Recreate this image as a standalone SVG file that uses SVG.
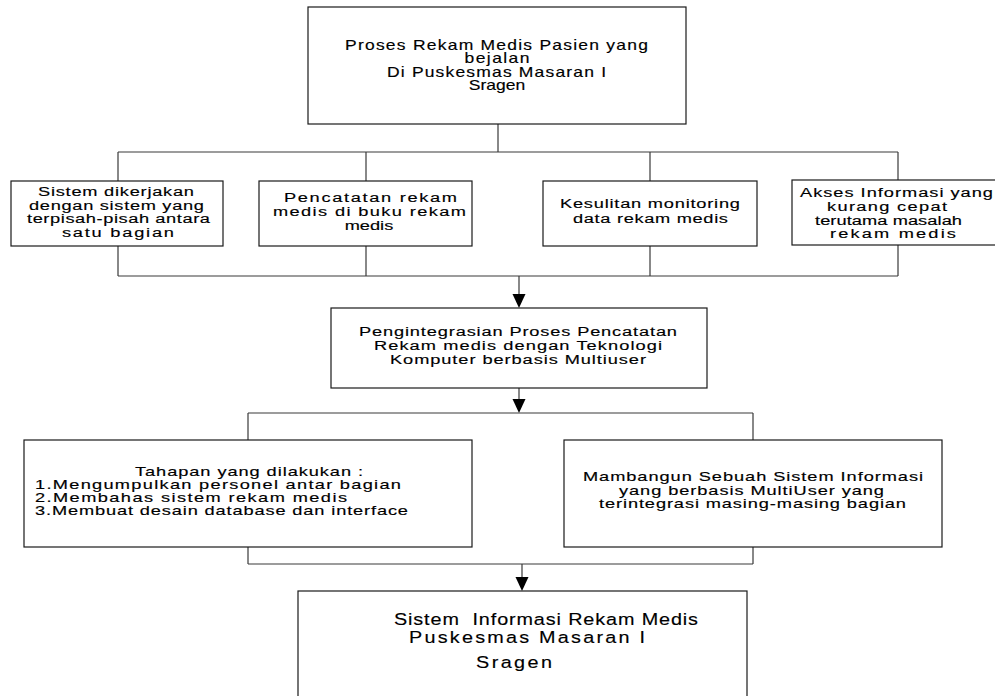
<svg xmlns="http://www.w3.org/2000/svg" width="995" height="696" viewBox="0 0 995 696">
<style>
  .box { fill: #ffffff; stroke: #1a1a1a; stroke-width: 1.2; }
  .ln { fill: none; stroke: #3a3a3a; stroke-width: 1.2; }
  .ah { fill: #000000; stroke: none; }
  text { font-family: "Liberation Sans", Arial, sans-serif; fill: #000000; stroke: #000000; stroke-width: 0.15; white-space: pre; }
  .t14 { font-size: 14px; }
  .t135 { font-size: 13.5px; }
  .t13 { font-size: 13px; }
  .t165 { font-size: 16.5px; }
</style>
<rect x="0" y="0" width="995" height="696" fill="#ffffff"/>

<g id="connectors">
  <path class="ln" d="M498 124 V152 M118 152 H898 M118 152 V181 M366 152 V181 M650 152 V181 M898 152 V180"/>
  <path class="ln" d="M118 246 V276 M366 246 V276 M650 246 V276 M898 245 V276 M118 276 H898"/>
  <path class="ln" d="M519 276 V296"/>
  <polygon class="ah" points="512.5,294 525.5,294 519,308"/>
  <path class="ln" d="M519 388 V400"/>
  <polygon class="ah" points="512.5,399 525.5,399 519,413"/>
  <path class="ln" d="M248 413 H753 M248 413 V440 M753 413 V440"/>
  <path class="ln" d="M248 547 V564 M753 547 V564 M248 564 H753"/>
  <path class="ln" d="M522 564 V578"/>
  <polygon class="ah" points="515.5,577 528.5,577 522,591"/>
</g>

<g id="node-proses">
  <rect class="box" x="308" y="7" width="378" height="117"/>
  <g transform="scale(1.25,1)">
    <text class="t14" x="276" y="50" textLength="242.4" lengthAdjust="spacing">Proses Rekam Medis Pasien yang</text>
    <text class="t14" x="371.6" y="63.5" textLength="52" lengthAdjust="spacing">bejalan</text>
    <text class="t14" x="309.6" y="77" textLength="175.2" lengthAdjust="spacing">Di Puskesmas Masaran I</text>
    <text class="t14" x="397.6" y="90.5" text-anchor="middle">Sragen</text>
  </g>
</g>

<g id="node-sistem-terpisah">
  <rect class="box" x="11" y="181" width="212" height="65"/>
  <g transform="scale(1.35,1)">
    <text class="t135" x="28.15" y="196.5" textLength="115.56" lengthAdjust="spacing">Sistem dikerjakan</text>
    <text class="t135" x="21.48" y="210" textLength="129.63" lengthAdjust="spacing">dengan sistem yang</text>
    <text class="t135" x="20" y="223.5" textLength="135.56" lengthAdjust="spacing">terpisah-pisah antara</text>
    <text class="t135" x="45.93" y="237" textLength="82.96" lengthAdjust="spacing">satu bagian</text>
  </g>
</g>

<g id="node-pencatatan">
  <rect class="box" x="259" y="181" width="213" height="65"/>
  <g transform="scale(1.35,1)">
    <text class="t135" x="210.37" y="202" textLength="128.15" lengthAdjust="spacing">Pencatatan rekam</text>
    <text class="t135" x="202.22" y="216" textLength="142.96" lengthAdjust="spacing">medis di buku rekam</text>
    <text class="t135" x="273.33" y="230" text-anchor="middle">medis</text>
  </g>
</g>

<g id="node-kesulitan">
  <rect class="box" x="543" y="181" width="214" height="65"/>
  <g transform="scale(1.35,1)">
    <text class="t135" x="414.81" y="208.5" textLength="133.33" lengthAdjust="spacing">Kesulitan monitoring</text>
    <text class="t135" x="424.44" y="223" textLength="114.81" lengthAdjust="spacing">data rekam medis</text>
  </g>
</g>

<g id="node-akses">
  <rect class="box" x="792" y="180" width="206" height="65"/>
  <g transform="scale(1.35,1)">
    <text class="t135" x="592.59" y="196.7" textLength="142.96" lengthAdjust="spacing">Akses Informasi yang</text>
    <text class="t135" x="612.59" y="211" textLength="88.89" lengthAdjust="spacing">kurang cepat</text>
    <text class="t135" x="603.7" y="225" textLength="108.89" lengthAdjust="spacing">terutama masalah</text>
    <text class="t135" x="614.81" y="238.5" textLength="93.33" lengthAdjust="spacing">rekam medis</text>
  </g>
</g>

<g id="node-pengintegrasian">
  <rect class="box" x="331" y="308" width="376" height="80"/>
  <g transform="scale(1.35,1)">
    <text class="t135" x="265.93" y="336" textLength="235.56" lengthAdjust="spacing">Pengintegrasian Proses Pencatatan</text>
    <text class="t135" x="277.04" y="350" textLength="213.33" lengthAdjust="spacing">Rekam medis dengan Teknologi</text>
    <text class="t135" x="288.89" y="364" textLength="189.63" lengthAdjust="spacing">Komputer berbasis Multiuser</text>
  </g>
</g>

<g id="node-tahapan">
  <rect class="box" x="24" y="440" width="448" height="107"/>
  <g transform="scale(1.4,1)">
    <text class="t13" x="96.43" y="476" textLength="162.86" lengthAdjust="spacing">Tahapan yang dilakukan :</text>
    <text class="t13" x="25" y="489" textLength="261.43" lengthAdjust="spacing">1.Mengumpulkan personel antar bagian</text>
    <text class="t13" x="25" y="502" textLength="222.86" lengthAdjust="spacing">2.Membahas sistem rekam medis</text>
    <text class="t13" x="25" y="515" textLength="266.43" lengthAdjust="spacing">3.Membuat desain database dan interface</text>
  </g>
</g>

<g id="node-membangun">
  <rect class="box" x="564" y="440" width="378" height="107"/>
  <g transform="scale(1.4,1)">
    <text class="t13" x="416.43" y="481.5" textLength="242.86" lengthAdjust="spacing">Mambangun Sebuah Sistem Informasi</text>
    <text class="t13" x="442.14" y="495" textLength="189.29" lengthAdjust="spacing">yang berbasis MultiUser yang</text>
    <text class="t13" x="427.86" y="508.5" textLength="219.29" lengthAdjust="spacing">terintegrasi masing-masing bagian</text>
  </g>
</g>

<g id="node-simrm">
  <rect class="box" x="298" y="591" width="449" height="120"/>
  <g transform="scale(1.2,1)">
    <text class="t165" x="328.33" y="625" textLength="253.33" lengthAdjust="spacing">Sistem  Informasi Rekam Medis</text>
    <text class="t165" x="340.83" y="643" textLength="196.67" lengthAdjust="spacing">Puskesmas Masaran I</text>
    <text class="t165" x="396.67" y="668" textLength="63.33" lengthAdjust="spacing">Sragen</text>
  </g>
</g>
</svg>
